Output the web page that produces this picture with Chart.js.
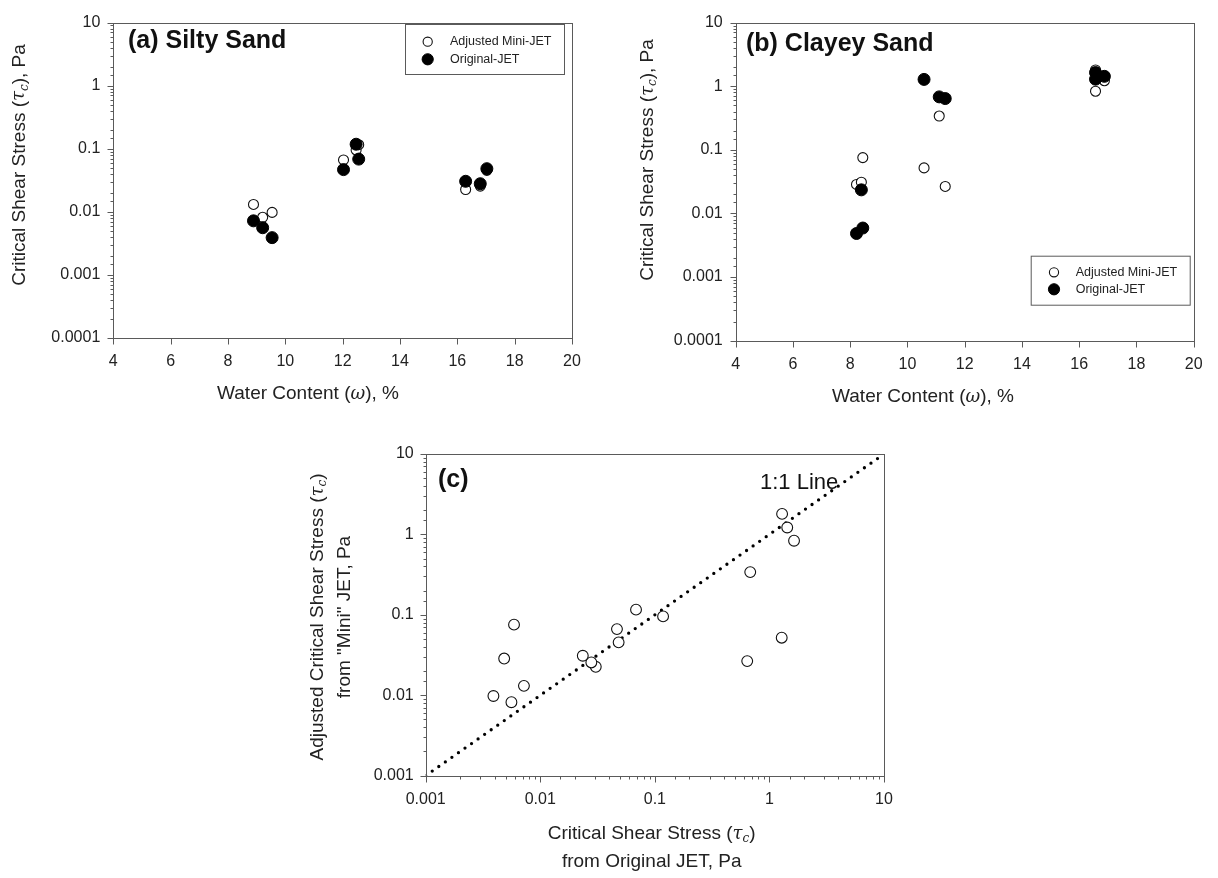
<!DOCTYPE html>
<html>
<head>
<meta charset="utf-8">
<script src="https://cdn.jsdelivr.net/npm/chart.js@4.4.1/dist/chart.umd.min.js"></script>
<style>
  html, body { margin: 0; padding: 0; background: #fff; }
  body { width: 1218px; height: 878px; position: relative; overflow: hidden; }
  canvas { position: absolute; }
  #chartA { left: 0; top: 0; }
  #chartB { left: 610px; top: 0; }
  #chartC { left: 230px; top: 420px; }
</style>
</head>
<body>
<canvas id="chartA" width="610" height="410"></canvas>
<canvas id="chartB" width="608" height="410"></canvas>
<canvas id="chartC" width="700" height="458"></canvas>
<script>
// values: water content (%), critical shear stress (Pa)
const siltyWater = [8.89, 9.21, 9.54, 12.03, 12.47, 12.56, 16.29, 16.80, 17.03];
const siltyMini  = [0.0131, 0.0082, 0.0098, 0.0665, 0.0957, 0.116, 0.0226, 0.0256, 0.0455];
const siltyOrig  = [0.0072, 0.0056, 0.0039, 0.0467, 0.118, 0.0685, 0.0305, 0.0279, 0.0483];

const clayeyWater = [8.22, 8.44, 8.39, 10.58, 11.11, 11.32, 16.57, 16.88, 16.57];
const clayeyMini  = [0.0286, 0.0755, 0.031, 0.052, 0.34, 0.0266, 1.80, 1.22, 0.835];
const clayeyOrig  = [0.00484, 0.0059, 0.0235, 1.28, 0.68, 0.64, 1.29, 1.43, 1.64];

const waterTicks = [4, 6, 8, 10, 12, 14, 16, 18, 20];
const stressTicksAB = ['0.0001', '0.001', '0.01', '0.1', '1', '10'];
const stressTicksC = ['0.001', '0.01', '0.1', '1', '10'];
const oneToOne = [0.001, 10];

const SANS = '"Liberation Sans", Arial, sans-serif';
const SERIF = '"DejaVu Serif", "Liberation Serif", serif';
const AXIS = '#5a5a5a';

Chart.defaults.font.family = SANS;
Chart.defaults.font.size = 16;
Chart.defaults.color = '#222';

const F = '19px ' + SANS;
const FI = 'italic 18px ' + SERIF;
const FS = 'italic 12px ' + SERIF;
const tauParts = [['Critical Shear Stress (', F], ['\u03c4', FI], ['c', FS, 5], ['), Pa', F]];
const waterParts = [['Water Content (', F], ['\u03c9', FI], ['), %', F]];

function isDecade(v) {
    const e = Math.log10(v);
    return Math.abs(e - Math.round(e)) < 1e-6;
}

function decadeLabel(labels, minExp) {
    return v => isDecade(v) ? labels[Math.round(Math.log10(v)) - minExp] : '';
}

function richText(ctx, parts, x, y, rot) {
    ctx.save();
    ctx.translate(x, y);
    ctx.rotate(rot || 0);
    let w = 0;
    parts.forEach(p => { ctx.font = p[1]; w += ctx.measureText(p[0]).width; });
    let cx = -w / 2;
    ctx.textAlign = 'left';
    ctx.textBaseline = 'middle';
    ctx.fillStyle = '#222';
    parts.forEach(p => {
        ctx.font = p[1];
        ctx.fillText(p[0], cx, p[2] || 0);
        cx += ctx.measureText(p[0]).width;
    });
    ctx.restore();
}

function tickMarks(ctx, scale, horizontal, area) {
    scale.ticks.forEach(t => {
        const p = Math.round(scale.getPixelForValue(t.value)) + 0.5;
        const major = scale.type !== 'logarithmic' || isDecade(t.value);
        const len = major ? 6 : 3;
        ctx.beginPath();
        if (horizontal) {
            ctx.moveTo(p, area.bottom);
            ctx.lineTo(p, area.bottom + len);
        } else {
            ctx.moveTo(area.left, p);
            ctx.lineTo(area.left - len, p);
        }
        ctx.stroke();
    });
}

// frame, tick marks, titles and the boxed legend
const decoPlugin = {
    id: 'deco',
    afterDraw(chart, args, o) {
        const ctx = chart.ctx;
        const a = chart.chartArea;
        ctx.save();
        ctx.strokeStyle = AXIS;
        ctx.lineWidth = 1;
        const L = Math.round(a.left) + 0.5, T = Math.round(a.top) + 0.5;
        const R = Math.round(a.right) + 0.5, B = Math.round(a.bottom) + 0.5;
        ctx.strokeRect(L, T, R - L, B - T);
        const box = {left: L, bottom: B};
        tickMarks(ctx, chart.scales.x, true, box);
        tickMarks(ctx, chart.scales.y, false, box);

        (o.texts || []).forEach(t => {
            ctx.font = t.font;
            ctx.fillStyle = '#111';
            ctx.textAlign = 'left';
            ctx.textBaseline = 'alphabetic';
            ctx.fillText(t.text, t.x, t.y);
        });
        (o.xTitle || []).forEach(t => richText(ctx, t.parts, t.x, t.y, 0));
        (o.yTitle || []).forEach(t => richText(ctx, t.parts, t.x, t.y, -Math.PI / 2));

        if (o.legend) {
            const g = o.legend;
            ctx.strokeStyle = AXIS;
            ctx.strokeRect(g.x + 0.5, g.y + 0.5, g.w, g.h);
            ctx.font = '12.5px ' + SANS;
            ctx.textBaseline = 'middle';
            ctx.textAlign = 'left';
            chart.data.datasets.slice().reverse().forEach((ds, i) => {
                const cy = g.rowY[i];
                ctx.beginPath();
                ctx.arc(g.mx, cy, ds.pointRadius - 0.4, 0, Math.PI * 2);
                ctx.fillStyle = ds.backgroundColor;
                ctx.fill();
                ctx.lineWidth = ds.borderWidth;
                ctx.strokeStyle = ds.borderColor;
                ctx.stroke();
                ctx.fillStyle = '#222';
                ctx.fillText(ds.label, g.tx, cy);
            });
        }
        ctx.restore();
    }
};

function pairs(xs, ys) {
    return xs.map((x, i) => ({x: x, y: ys[i]}));
}

function waterChart(id, water, mini, orig, geo, extra) {
    return new Chart(document.getElementById(id), {
        type: 'scatter',
        data: {
            datasets: [
                {
                    label: 'Original-JET', data: pairs(water, orig), order: 0,
                    pointRadius: 6, backgroundColor: '#000', borderColor: '#000', borderWidth: 1
                },
                {
                    label: 'Adjusted Mini-JET', data: pairs(water, mini), order: 1,
                    pointRadius: 5, backgroundColor: '#fff', borderColor: '#111', borderWidth: 1.1
                }
            ]
        },
        options: {
            responsive: false, animation: false, devicePixelRatio: 1, events: [],
            layout: {padding: {left: 0, top: geo.top, right: geo.right, bottom: 0}},
            scales: {
                x: {
                    type: 'linear', min: 4, max: 20,
                    grid: {display: false, drawTicks: false}, border: {display: false},
                    ticks: {stepSize: 2, padding: 14, autoSkip: false, maxRotation: 0,
                            callback: v => waterTicks.includes(v) ? String(v) : ''},
                    afterFit: s => { s.height = geo.xh; }
                },
                y: {
                    type: 'logarithmic', min: 0.0001, max: 10,
                    grid: {display: false, drawTicks: false}, border: {display: false},
                    ticks: {padding: 13, autoSkip: false, callback: decadeLabel(stressTicksAB, -4)},
                    afterFit: s => { s.width = geo.yw; }
                }
            },
            plugins: {legend: {display: false}, tooltip: {enabled: false}, deco: extra}
        },
        plugins: [decoPlugin]
    });
}

waterChart('chartA', siltyWater, siltyMini, siltyOrig,
    {top: 16, right: 38, xh: 72, yw: 113.3},
    {
        texts: [{text: '(a) Silty Sand', font: 'bold 25px ' + SANS, x: 128, y: 48}],
        xTitle: [{parts: waterParts, x: 308, y: 394}],
        yTitle: [{parts: tauParts, x: 19.5, y: 165}],
        legend: {x: 405, y: 24, w: 159, h: 50, mx: 427.7, tx: 450, rowY: [41.7, 59.3]}
    });

waterChart('chartB', clayeyWater, clayeyMini, clayeyOrig,
    {top: 19.3, right: 24.3, xh: 69.3, yw: 125.7},
    {
        texts: [{text: '(b) Clayey Sand', font: 'bold 25px ' + SANS, x: 136, y: 51}],
        xTitle: [{parts: waterParts, x: 313, y: 397}],
        yTitle: [{parts: tauParts, x: 38, y: 160}],
        legend: {x: 420.7, y: 255.7, w: 159, h: 49, mx: 444, tx: 465.7, rowY: [272.3, 289.3]}
    });

// (c): adjusted mini-JET against original JET, both soils
const allOrig = siltyOrig.concat(clayeyOrig);
const allMini = siltyMini.concat(clayeyMini);

new Chart(document.getElementById('chartC'), {
    type: 'scatter',
    data: {
        datasets: [
            {
                label: 'Mini vs Original', data: pairs(allOrig, allMini), order: 0,
                pointRadius: 5.4, backgroundColor: '#fff', borderColor: '#111', borderWidth: 1.1
            },
            {
                label: '1:1 Line', data: pairs(oneToOne, oneToOne), order: 1, showLine: true,
                pointRadius: 0, borderColor: '#000', borderWidth: 3.3,
                borderDash: [0, 8], borderCapStyle: 'round'
            }
        ]
    },
    options: {
        responsive: false, animation: false, devicePixelRatio: 1, events: [],
        layout: {padding: {left: 0, top: 34, right: 46, bottom: 0}},
        scales: {
            x: {
                type: 'logarithmic', min: 0.001, max: 10,
                grid: {display: false, drawTicks: false}, border: {display: false},
                ticks: {padding: 14, autoSkip: false, maxRotation: 0, callback: decadeLabel(stressTicksC, -3)},
                afterFit: s => { s.height = 102.3; }
            },
            y: {
                type: 'logarithmic', min: 0.001, max: 10,
                grid: {display: false, drawTicks: false}, border: {display: false},
                ticks: {padding: 12, autoSkip: false, callback: decadeLabel(stressTicksC, -3)},
                afterFit: s => { s.width = 195.7; }
            }
        },
        plugins: {
            legend: {display: false}, tooltip: {enabled: false},
            deco: {
                texts: [
                    {text: '(c)', font: 'bold 25px ' + SANS, x: 208, y: 67},
                    {text: '1:1 Line', font: '22px ' + SANS, x: 530, y: 69}
                ],
                xTitle: [
                    {parts: [['Critical Shear Stress (', F], ['\u03c4', FI], ['c', FS, 5], [')', F]], x: 421.7, y: 414},
                    {parts: [['from Original JET, Pa', F]], x: 421.7, y: 442}
                ],
                yTitle: [
                    {parts: [['Adjusted Critical Shear Stress (', F], ['\u03c4', FI], ['c', FS, 5], [')', F]], x: 88, y: 197},
                    {parts: [['from "Mini" JET, Pa', F]], x: 115, y: 197}
                ]
            }
        }
    },
    plugins: [decoPlugin]
});
</script>
</body>
</html>
